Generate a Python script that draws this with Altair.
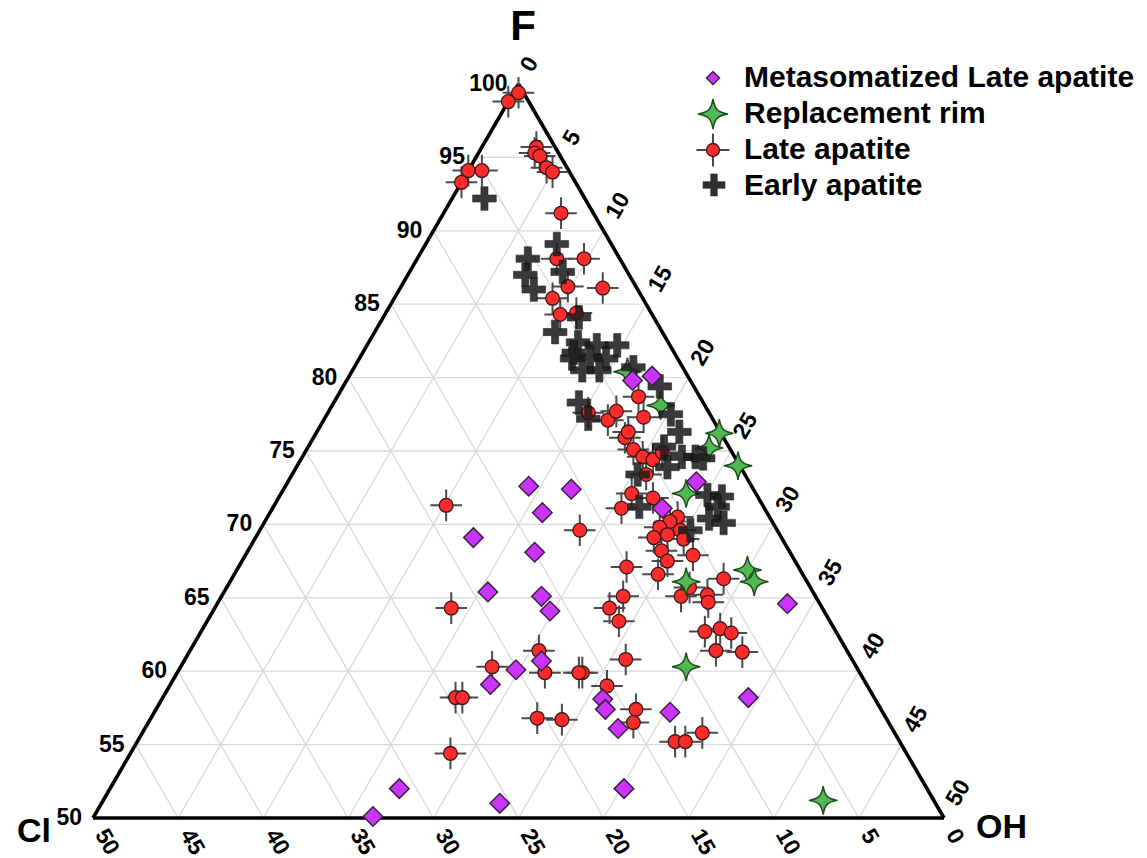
import altair as alt
import numpy as np
import pandas as pd

# ---------------- data (ternary compositions, %; Cl = 100 - F - OH) ----------------
meta_F = [80.1, 79.8, 72.9, 71.1, 72.6, 72.4, 70.8, 69.1, 68.1, 65.4, 65.1, 64.1, 64.6,
          58.2, 57.2, 58.1, 57.4, 56.1, 60.7, 60.1, 59.1, 52.0, 51.0, 50.1, 52.0]
meta_OH = [17.8, 16.8, 24.0, 22.9, 14.3, 16.9, 16.0, 12.8, 16.9, 15.5, 18.8, 19.8, 33.5,
           34.4, 30.3, 25.9, 26.4, 27.8, 21.0, 19.8, 18.8, 17.0, 23.4, 16.4, 30.2]

rim_F = [80.4, 78.1, 76.2, 75.2, 74.0, 72.1, 66.1, 66.9, 66.1, 60.3, 51.2]
rim_OH = [16.2, 19.3, 23.7, 23.6, 25.9, 23.8, 26.8, 30.0, 30.8, 29.7, 42.3]

late_F = [99.4, 98.8, 95.7, 95.3, 95.1, 94.3, 94.0, 94.1, 94.1, 93.3, 91.2, 88.1, 88.1,
          86.2, 86.1, 85.4, 84.3, 84.4, 77.6, 77.1, 77.7, 78.7, 77.3, 75.9, 76.3, 75.1,
          74.6, 74.4, 74.9, 73.4, 72.1, 71.8, 71.1, 70.5, 70.2, 69.8, 69.6, 69.3, 69.1,
          69.0, 68.2, 67.9, 67.5, 67.1, 66.6, 65.7, 66.3, 65.1, 64.3, 65.1, 65.2, 64.7,
          71.3, 69.6, 64.3, 63.4, 61.4, 61.4, 62.9, 62.6, 62.7, 61.3, 60.8, 59.9, 59.0,
          57.4, 56.5, 55.2, 55.2, 55.8, 60.3, 59.9, 59.9, 58.2, 58.2, 56.8, 56.7, 54.4]
late_OH = [0.3, 0.0, 3.2, 3.3, 3.7, 4.5, 5.0, 0.0, 0.8, 0.0, 6.9, 8.2, 9.8,
           9.8, 11.9, 9.3, 10.3, 11.2, 15.3, 16.7, 16.9, 17.7, 18.7, 18.3, 18.3, 19.2,
           20.0, 20.7, 21.0, 20.8, 20.6, 22.0, 20.5, 24.1, 23.8, 23.4, 24.7, 24.1, 23.4,
           25.2, 24.3, 26.3, 25.0, 22.8, 24.9, 27.2, 28.9, 23.6, 23.2, 27.0, 28.5, 28.8,
           10.1, 18.8, 13.9, 24.2, 20.5, 30.9, 30.4, 31.2, 29.6, 32.5, 25.9, 23.8, 25.7,
           28.2, 28.5, 31.6, 32.2, 32.9, 18.3, 21.6, 23.6, 17.2, 17.6, 22.7, 24.2, 18.8]

early_F = [92.2, 89.1, 88.1, 87.0, 86.0, 87.2, 84.1, 83.1, 82.4, 82.2, 82.2, 81.3, 81.4,
           81.3, 80.5, 80.5, 80.7, 78.3, 77.2, 79.4, 77.5, 76.3, 75.3, 74.6, 74.6, 74.5,
           73.9, 73.4, 71.2, 72.0, 71.9, 71.2, 70.4, 70.1, 69.6, 81.7]
early_OH = [1.9, 7.7, 6.5, 6.9, 7.9, 9.0, 11.5, 10.6, 12.3, 13.5, 14.7, 12.5, 13.5,
            14.5, 13.5, 14.5, 16.4, 14.4, 15.5, 18.6, 20.2, 21.3, 20.9, 22.3, 23.1, 23.6,
            21.8, 20.3, 21.5, 25.1, 26.0, 26.1, 26.0, 27.0, 25.3, 12.4]

series_names = ["Metasomatized Late apatite", "Replacement rim", "Late apatite", "Early apatite"]
tick_values = [0, 5, 10, 15, 20, 25, 30, 35, 40, 45, 50]
vertex_names = ["F", "Cl", "OH"]

# ---------------- layout constants (pixels of the 1147x858 canvas) ----------------
W, H = 1147, 858
BX0, BX1, BY, TOPY = 93.0, 944.0, 818.0, 84.0
SX, SY = BX1 - BX0, BY - TOPY
FONT = "Liberation Sans, Arial, Helvetica, sans-serif"


def px2X(px):
    return (np.asarray(px, float) - BX0) / SX


def py2Y(py):
    return (BY - np.asarray(py, float)) / SY


def tern(F, OH):
    """F in [50,100], OH in [0,50] -> cartesian units (base 0..1, height 0..1)."""
    F = np.asarray(F, float)
    OH = np.asarray(OH, float)
    a = (F - 50.0) / 50.0
    d = OH / 50.0
    return d + a / 2.0, a


xs = alt.Scale(domain=[float(px2X(0)), float(px2X(W))], nice=False, zero=False)
ys = alt.Scale(domain=[float(py2Y(H)), float(py2Y(0))], nice=False, zero=False)


def enc(chart, x="x", y="y"):
    return chart.encode(
        x=alt.X(x, type="quantitative", scale=xs, axis=None),
        y=alt.Y(y, type="quantitative", scale=ys, axis=None),
    )


def pts(F, OH, name):
    x, y = tern(F, OH)
    return pd.DataFrame({"x": x, "y": y, "series": name})


# ---------------- grid + frame ----------------
grid_rows = []
for v in tick_values[1:-1]:
    f = 50 + v
    x1, y1 = tern(f, 0)
    x2, y2 = tern(f, 100 - f)
    grid_rows.append((float(x1), float(y1), float(x2), float(y2)))
    # OH = v
    x1, y1 = tern(100 - v, v)
    x2, y2 = tern(50, v)
    grid_rows.append((float(x1), float(y1), float(x2), float(y2)))
    # Cl = v
    x1, y1 = tern(100 - v, 0)
    x2, y2 = tern(50, 50 - v)
    grid_rows.append((float(x1), float(y1), float(x2), float(y2)))
grid_df = pd.DataFrame(grid_rows, columns=["x", "y", "x2", "y2"])

edge_rows = []
for (fa, oa), (fb, ob) in [((100, 0), (50, 0)), ((100, 0), (50, 50)), ((50, 0), (50, 50))]:
    x1, y1 = tern(fa, oa)
    x2, y2 = tern(fb, ob)
    edge_rows.append((float(x1), float(y1), float(x2), float(y2)))
edge_df = pd.DataFrame(edge_rows, columns=["x", "y", "x2", "y2"])

grid = alt.Chart(grid_df).mark_rule(color="#d9d9d9", strokeWidth=1.3).encode(
    x=alt.X("x:Q", scale=xs, axis=None), y=alt.Y("y:Q", scale=ys, axis=None),
    x2="x2:Q", y2="y2:Q")
edges = alt.Chart(edge_df).mark_rule(color="#000000", strokeWidth=3.6).encode(
    x=alt.X("x:Q", scale=xs, axis=None), y=alt.Y("y:Q", scale=ys, axis=None),
    x2="x2:Q", y2="y2:Q")

# ---------------- tick labels ----------------
LS = 23
# F (left edge)
fl = []
for v in tick_values:
    f = 50 + v
    x, y = tern(f, 0)
    fl.append((float(x) - 11 / SX, float(y), str(f)))
f_df = pd.DataFrame(fl, columns=["x", "y", "t"])
# OH (right edge)
ol = []
for v in tick_values:
    x, y = tern(100 - v, v)
    ol.append((float(x) + 8.0 / SX, float(y) + 13.9 / SY, str(v)))
o_df = pd.DataFrame(ol, columns=["x", "y", "t"])
# Cl (bottom edge)
cl = []
for v in tick_values:
    x, y = tern(50, 50 - v)
    cl.append((float(x) + 7.5 / SX, float(y) - 13.0 / SY, str(v)))
c_df = pd.DataFrame(cl, columns=["x", "y", "t"])

f_text = enc(alt.Chart(f_df).mark_text(align="right", baseline="middle", font=FONT,
                                         fontSize=LS, fontWeight="bold", color="#000")).encode(text="t:N")
o_text = enc(alt.Chart(o_df).mark_text(align="left", baseline="middle", angle=300, font=FONT,
                                         fontSize=LS, fontWeight="bold", color="#000")).encode(text="t:N")
c_text = enc(alt.Chart(c_df).mark_text(align="left", baseline="middle", angle=60, font=FONT,
                                         fontSize=LS, fontWeight="bold", color="#000")).encode(text="t:N")

# vertex titles
vt_df = pd.DataFrame({
    "x": [float(px2X(523)), float(px2X(17)), float(px2X(976))],
    "y": [float(py2Y(40)), float(py2Y(842)), float(py2Y(838))],
    "t": vertex_names,
})
vt_F = enc(alt.Chart(vt_df.iloc[[0]]).mark_text(align="center", baseline="alphabetic", font=FONT,
                                               fontSize=42, fontWeight="bold", color="#000")).encode(text="t:N")
vt_O = enc(alt.Chart(vt_df.iloc[[1, 2]]).mark_text(align="left", baseline="alphabetic", font=FONT,
                                                  fontSize=34, fontWeight="bold", color="#000")).encode(text="t:N")

# ---------------- symbols ----------------
STAR = "M0,-1 C0.12,-0.3 0.3,-0.12 1,0 C0.3,0.12 0.12,0.3 0,1 C-0.12,0.3 -0.3,0.12 -1,0 C-0.3,-0.12 -0.12,-0.3 0,-1 Z"
PLUS = "M-1,-0.3 L-0.3,-0.3 L-0.3,-1 L0.3,-1 L0.3,-0.3 L1,-0.3 L1,0.3 L0.3,0.3 L0.3,1 L-0.3,1 L-0.3,0.3 L-1,0.3 Z"
ERR = "M-1,0 L1,0 M0,-1 L0,1"

meta_df = pts(meta_F, meta_OH, series_names[0])
rim_df = pts(rim_F, rim_OH, series_names[1])
late_df = pts(late_F, late_OH, series_names[2])
early_df = pts(early_F, early_OH, series_names[3])


def late_layers(df, csize=190, esize=1000):
    eb = enc(alt.Chart(df).mark_point(shape=ERR, size=esize, filled=False, stroke="#4a4a4a",
                                      strokeWidth=2, opacity=1))
    cc = enc(alt.Chart(df).mark_point(shape="circle", size=csize, filled=True, fill="#ff2a2a",
                                      stroke="#3a1a1a", strokeWidth=1.3, opacity=1))
    return [eb, cc]


def star_layer(df, size=800):
    return enc(alt.Chart(df).mark_point(shape=STAR, size=size, filled=True, fill="#52b852",
                                        stroke="#1e4d1e", strokeWidth=1.5, opacity=1))


def early_layer(df, size=560, op=0.88):
    return enc(alt.Chart(df).mark_point(shape=PLUS, size=size, filled=True, fill="#1f1f1f",
                                        stroke="#0d0d0d", strokeWidth=0.6, opacity=op))


def meta_layer(df, size=380):
    return enc(alt.Chart(df).mark_point(shape="diamond", size=size, filled=True, fill="#cc33ff",
                                        stroke="#3a2340", strokeWidth=1.5, opacity=1))


# ---------------- legend (manual) ----------------
LX = 713
leg_y = [78, 114, 150, 185]


def lp(i, dx=0):
    return pd.DataFrame({"x": [float(px2X(LX + dx))], "y": [float(py2Y(leg_y[i]))]})


leg_text_df = pd.DataFrame({"x": [float(px2X(744))] * 4, "y": [float(py2Y(v)) for v in [78, 114, 150, 186]],
                            "t": series_names})
leg_text = enc(alt.Chart(leg_text_df).mark_text(align="left", baseline="middle", font=FONT,
                                                fontSize=30, fontWeight="bold", color="#000")).encode(text="t:N")

layers = [grid, edges]
layers += late_layers(late_df)
layers += [star_layer(rim_df), early_layer(early_df), meta_layer(meta_df)]
layers += [f_text, o_text, c_text, vt_F, vt_O]
layers += [meta_layer(lp(0), size=170), star_layer(lp(1), size=900)]
layers += late_layers(lp(2), csize=170, esize=1100)
layers += [early_layer(lp(3, 1), size=480, op=0.92), leg_text]

chart = alt.layer(*layers).properties(
    width=W, height=H, padding=0,
    autosize=alt.AutoSizeParams(type="none"),
).configure_view(stroke=None)

chart.save("out.html", embed_options={"renderer": "svg", "actions": False})
